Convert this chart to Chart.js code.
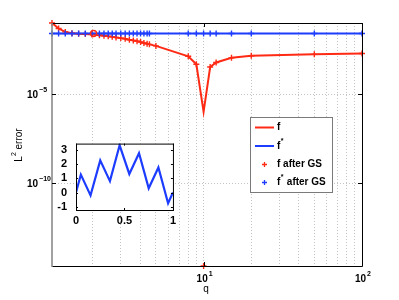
<!DOCTYPE html>
<html>
<head>
<meta charset="utf-8">
<script src="https://cdn.jsdelivr.net/npm/chart.js@4"></script>
<style>
html, body { margin: 0; padding: 0; background: #fff; }
#wrap { position: relative; width: 399px; height: 300px; }
#main { position: absolute; left: 0; top: 0; }
#inset { position: absolute; left: 56px; top: 128px; }
</style>
</head>
<body>
<div id="wrap">
<canvas id="main" width="399" height="300"></canvas>
<canvas id="inset" width="124" height="100"></canvas>
</div>
<script>
// values
var qValues = [1.104, 1.215, 1.339, 1.476, 1.626, 1.792, 1.975, 2.2, 2.35, 2.5, 2.65, 2.8,
  3.0, 3.2, 3.4, 3.6, 3.8, 4.0, 4.2, 4.4, 4.55, 5, 8, 9, 10, 11, 12, 15, 20, 50, 100];
var fError = [0.105, 0.0513, 0.0331, 0.0282, 0.0263, 0.0251, 0.0240, 0.0214, 0.0200, 0.0186, 0.0174, 0.0162,
  0.0148, 0.0135, 0.0120, 0.0110, 0.0100, 0.0089, 0.0079, 0.0071, 0.0066, 0.0054, 0.0014, 5.0e-4, 1.05e-6, 3.5e-4, 6.3e-4,
  1.15e-3, 1.5e-3, 1.8e-3, 2.0e-3];
var fStarError = [0.0269, 0.0269, 0.0269, 0.0269, 0.0269, 0.0269, 0.0269, 0.0269, 0.0269, 0.0269, 0.0269, 0.0269,
  0.0269, 0.0269, 0.0269, 0.0269, 0.0269, 0.0269, 0.0269, 0.0269, 0.0269, 0.0269, 0.0269, 0.0269, 0.0269, 0.0269, 0.0269,
  0.0269, 0.0269, 0.0269, 0.0269];
var fAfterGS = [0.105, 0.0513, 0.0331, 0.0282, 0.0263, 0.0251, 0.0240, 0.0214, 0.0200, 0.0186, 0.0174, 0.0162,
  0.0148, 0.0135, 0.0120, 0.0110, 0.0100, 0.0089, 0.0079, 0.0071, 0.0066, 0.0054, 0.0014, 5.0e-4, 2.2e-15, 3.5e-4, 6.3e-4,
  1.15e-3, 1.5e-3, 1.8e-3, 2.0e-3];
var fStarAfterGS = [0.0269, 0.0269, 0.0269, 0.0269, 0.0269, 0.0269, 0.0269, 0.0269, 0.0269, 0.0269, 0.0269, 0.0269,
  0.0269, 0.0269, 0.0269, 0.0269, 0.0269, 0.0269, 0.0269, 0.0269, 0.0269, null, 0.0269, 0.0269, 0.0269, 0.0269, 0.0269,
  0.0269, 0.0269, 0.0269, 0.0269];
var crossQ = [2.02];
var crossErr = [0.0269];

var xGridTicks = [2, 3, 4, 5, 6, 7, 8, 9, 10, 20, 30, 40, 50, 60, 70, 80, 90, 100];
var xLabelTicks = [10, 100];
var xLabelExps = ['1', '2'];
var yTicks = [1e-10, 1e-5];
var yLabelExps = ['\u221210', '\u22125'];

var insetX = [0, 0.05, 0.15, 0.25, 0.35, 0.45, 0.55, 0.65, 0.75, 0.85, 0.95, 1];
var insetY = [0, 1.25, -0.2, 2.25, 0.8, 3.3, 1.3, 2.75, 0.3, 1.75, -0.75, 0];
var insetXTicks = [0, 0.5, 1];
var insetYTicks = [-1, 0, 1, 2, 3];

var RED = '#ff2a14';
var BLUE = '#1c3cff';
var FONT = '"Liberation Sans", Arial, sans-serif';

function pts(xs, ys) {
  return xs.map(function (x, i) { return { x: x, y: ys[i] }; });
}

// "10" with a raised exponent
function drawPow(ctx, exp, x, y, align) {
  ctx.font = 'bold 10px ' + FONT;
  var wb = ctx.measureText('10').width;
  ctx.font = 'bold 7px ' + FONT;
  var we = ctx.measureText(exp).width;
  var x0 = align === 'center' ? x - (wb + we + 1) / 2 : x;
  ctx.textBaseline = 'middle';
  ctx.textAlign = 'left';
  ctx.font = 'bold 10px ' + FONT;
  ctx.fillText('10', x0, y);
  ctx.font = 'bold 7px ' + FONT;
  ctx.fillText(exp, x0 + wb + 1, y - 5);
}

// label text with '*' drawn as superscript
function drawLabel(ctx, text, x, y) {
  ctx.textBaseline = 'middle';
  ctx.textAlign = 'left';
  var parts = text.split('*');
  ctx.font = 'bold 10px ' + FONT;
  ctx.fillText(parts[0], x, y);
  var cx = x + ctx.measureText(parts[0]).width;
  if (parts.length > 1) {
    ctx.font = 'bold 7px ' + FONT;
    ctx.fillText('*', cx + 0.5, y - 5);
    cx += ctx.measureText('*').width + 1;
    ctx.font = 'bold 10px ' + FONT;
    ctx.fillText(parts[1], cx, y);
  }
}

var mainDecor = {
  id: 'mainDecor',
  afterDraw: function (chart) {
    var ctx = chart.ctx, a = chart.chartArea;
    var xs = chart.scales.x, ys = chart.scales.y;
    ctx.save();
    // frame
    ctx.lineWidth = 1;
    ctx.strokeStyle = '#000';
    ctx.beginPath();
    ctx.moveTo(a.left, a.top + 0.5); ctx.lineTo(a.right + 0.5, a.top + 0.5);
    ctx.lineTo(a.right + 0.5, a.bottom + 0.5); ctx.lineTo(a.left, a.bottom + 0.5);
    ctx.stroke();
    ctx.strokeStyle = '#8a8a8a';
    ctx.lineWidth = 1.6;
    ctx.beginPath();
    ctx.moveTo(a.left, a.top); ctx.lineTo(a.left, a.bottom + 1);
    ctx.stroke();
    // major tick marks
    ctx.strokeStyle = '#000';
    ctx.lineWidth = 1;
    xLabelTicks.forEach(function (v) {
      var px = Math.round(xs.getPixelForValue(v)) + 0.5;
      ctx.beginPath();
      ctx.moveTo(px, a.bottom); ctx.lineTo(px, a.bottom - 4);
      ctx.moveTo(px, a.top); ctx.lineTo(px, a.top + 4);
      ctx.stroke();
    });
    yTicks.forEach(function (v) {
      var py = Math.round(ys.getPixelForValue(v)) + 0.5;
      ctx.beginPath();
      ctx.moveTo(a.left, py); ctx.lineTo(a.left + 4, py);
      ctx.moveTo(a.right, py); ctx.lineTo(a.right - 4, py);
      ctx.stroke();
    });
    // tick labels
    ctx.fillStyle = '#000';
    yTicks.forEach(function (v, i) {
      drawPow(ctx, yLabelExps[i], 27, ys.getPixelForValue(v) + 1, 'left');
    });
    xLabelTicks.forEach(function (v, i) {
      drawPow(ctx, xLabelExps[i], xs.getPixelForValue(v) + 1, a.bottom + 13, 'center');
    });
    // axis titles
    ctx.font = '10px ' + FONT;
    ctx.textAlign = 'center';
    ctx.textBaseline = 'middle';
    ctx.fillText('q', 206, 289);
    ctx.save();
    ctx.translate(19, 145);
    ctx.rotate(-Math.PI / 2);
    ctx.font = '10px ' + FONT;
    var w1 = ctx.measureText('L').width, w3 = ctx.measureText(' error').width;
    ctx.font = '7px ' + FONT;
    var w2 = ctx.measureText('2').width;
    var sx = -(w1 + w2 + w3) / 2;
    ctx.textAlign = 'left';
    ctx.font = '10px ' + FONT;
    ctx.fillText('L', sx, 0);
    ctx.font = '7px ' + FONT;
    ctx.fillText('2', sx + w1, -5);
    ctx.font = '10px ' + FONT;
    ctx.fillText(' error', sx + w1 + w2, 0);
    ctx.restore();
    // legend box
    ctx.fillStyle = '#fff';
    ctx.fillRect(250, 117, 82, 75);
    ctx.strokeStyle = '#7a7a7a';
    ctx.lineWidth = 1;
    ctx.strokeRect(250.5, 117.5, 82, 75);
    var rows = [127.5, 146, 164.5, 182.5];
    chart.data.datasets.slice(0, 4).forEach(function (ds, i) {
      var y = rows[i];
      if (ds.showLine === false) {
        ctx.strokeStyle = ds.borderColor;
        ctx.lineWidth = 1.3;
        ctx.beginPath();
        ctx.moveTo(262, y); ctx.lineTo(267, y);
        ctx.moveTo(264.5, y - 2.5); ctx.lineTo(264.5, y + 2.5);
        ctx.stroke();
      } else {
        ctx.strokeStyle = ds.borderColor;
        ctx.lineWidth = 2;
        ctx.beginPath();
        ctx.moveTo(255, y); ctx.lineTo(274, y);
        ctx.stroke();
      }
      ctx.fillStyle = '#000';
      drawLabel(ctx, ds.label, 277, y);
    });
    ctx.restore();
  }
};

new Chart(document.getElementById('main'), {
  type: 'line',
  data: {
    datasets: [
      { label: 'f', data: pts(qValues, fError), borderColor: RED, borderWidth: 2, pointRadius: 0, order: 4 },
      { label: 'f*', data: pts(qValues, fStarError), borderColor: BLUE, borderWidth: 2, pointRadius: 0, order: 3 },
      { label: 'f after GS', data: pts(qValues, fAfterGS), showLine: false, pointStyle: 'cross', pointRadius: 3,
        borderColor: RED, pointBorderWidth: 1.4, order: 2, clip: false },
      { label: 'f* after GS', data: pts(qValues, fStarAfterGS), showLine: false, pointStyle: 'cross', pointRadius: 3,
        borderColor: BLUE, pointBorderWidth: 1.4, order: 1, clip: false },
      { label: '', data: pts(crossQ, crossErr), showLine: false, pointStyle: 'circle', pointRadius: 3,
        borderColor: RED, backgroundColor: 'rgba(0,0,0,0)', pointBorderWidth: 1.4, order: 0 }
    ]
  },
  options: {
    responsive: false,
    animation: false,
    layout: { padding: { left: 52, top: 23, right: 37, bottom: 34 } },
    plugins: { legend: { display: false }, tooltip: { enabled: false } },
    scales: {
      x: {
        type: 'logarithmic', min: 1.104, max: 100,
        afterBuildTicks: function (s) { s.ticks = xGridTicks.map(function (v) { return { value: v }; }); },
        afterFit: function (s) { s.height = 0; },
        ticks: { display: false },
        grid: { color: '#c4c4c4', drawTicks: false, tickLength: 0 },
        border: { display: false, dash: [1, 2] }
      },
      y: {
        type: 'logarithmic', min: 2.2e-15, max: 0.105,
        afterBuildTicks: function (s) { s.ticks = yTicks.map(function (v) { return { value: v }; }); },
        afterFit: function (s) { s.width = 0; },
        ticks: { display: false },
        grid: { color: '#c4c4c4', drawTicks: false, tickLength: 0 },
        border: { display: false, dash: [1, 2] }
      }
    }
  },
  plugins: [mainDecor]
});

var insetDecor = {
  id: 'insetDecor',
  beforeDatasetsDraw: function (chart) {
    var a = chart.chartArea, ctx = chart.ctx;
    ctx.save();
    ctx.fillStyle = '#fff';
    ctx.fillRect(a.left, a.top, a.right - a.left, a.bottom - a.top);
    ctx.restore();
  },
  afterDraw: function (chart) {
    var a = chart.chartArea, ctx = chart.ctx;
    var xs = chart.scales.x, ys = chart.scales.y;
    ctx.save();
    ctx.strokeStyle = '#000';
    ctx.lineWidth = 1;
    ctx.strokeRect(a.left + 0.5, a.top + 0.5, a.right - a.left, a.bottom - a.top);
    ctx.beginPath();
    insetXTicks.forEach(function (v) {
      var px = Math.round(xs.getPixelForValue(v)) + 0.5;
      ctx.moveTo(px, a.bottom); ctx.lineTo(px, a.bottom - 2);
      ctx.moveTo(px, a.top); ctx.lineTo(px, a.top + 2);
    });
    insetYTicks.forEach(function (v) {
      var py = Math.round(ys.getPixelForValue(v)) + 0.5;
      ctx.moveTo(a.left, py); ctx.lineTo(a.left + 2, py);
      ctx.moveTo(a.right, py); ctx.lineTo(a.right - 2, py);
    });
    ctx.stroke();
    ctx.restore();
  }
};

new Chart(document.getElementById('inset'), {
  type: 'line',
  data: {
    datasets: [
      { data: pts(insetX, insetY), borderColor: BLUE, borderWidth: 2.2, pointRadius: 0 }
    ]
  },
  options: {
    responsive: false,
    animation: false,
    layout: { padding: { left: 0, top: 9, right: 5, bottom: 0 } },
    plugins: { legend: { display: false }, tooltip: { enabled: false } },
    scales: {
      x: {
        type: 'linear', min: 0, max: 1,
        afterBuildTicks: function (s) { s.ticks = insetXTicks.map(function (v) { return { value: v }; }); },
        afterFit: function (s) { s.height = 18; },
        ticks: { color: '#000', font: { family: FONT, size: 11, weight: 'bold' }, padding: 4, maxRotation: 0, autoSkip: false,
          callback: function (v) { return String(v); } },
        grid: { display: false, drawTicks: false, tickLength: 0 },
        border: { display: false }
      },
      y: {
        type: 'linear', min: -1.22, max: 3.42,
        afterBuildTicks: function (s) { s.ticks = insetYTicks.map(function (v) { return { value: v }; }); },
        afterFit: function (s) { s.width = 20; },
        ticks: { color: '#000', font: { family: FONT, size: 11, weight: 'bold' }, padding: 9,
          callback: function (v) { return String(v); } },
        grid: { display: false, drawTicks: false, tickLength: 0 },
        border: { display: false }
      }
    }
  },
  plugins: [insetDecor]
});
</script>
</body>
</html>
